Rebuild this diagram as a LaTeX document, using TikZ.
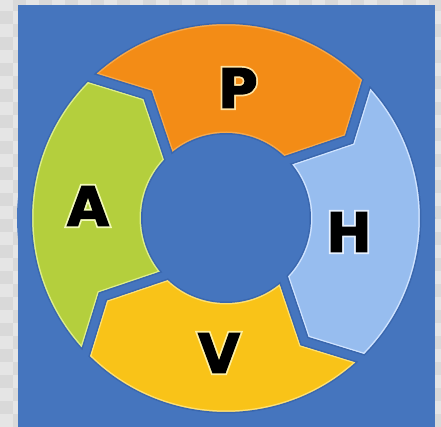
\documentclass[tikz,border=0pt]{standalone}
\usepackage{fontspec}
\newfontfamily\letterfont{DejaVu Sans Bold}[FakeBold=2.5]
\newfontfamily\glowfont{DejaVu Sans Bold}[FakeBold=9]
\definecolor{bggray}{HTML}{D9D9D9}
\definecolor{bgcheck}{HTML}{E5E5E5}
\definecolor{bgblue}{HTML}{4575BE}
\definecolor{shadowblue}{HTML}{3A67AE}
\definecolor{segP}{HTML}{F38C16}
\definecolor{segH}{HTML}{97BDEF}
\definecolor{segV}{HTML}{F9C318}
\definecolor{segA}{HTML}{B4CF3D}
\definecolor{edgeP}{HTML}{F8A848}
\definecolor{edgeH}{HTML}{CFE3FF}
\definecolor{edgeV}{HTML}{FFE070}
\definecolor{edgeA}{HTML}{DDEE88}
\definecolor{glowP}{HTML}{FFE3A0}
\definecolor{glowH}{HTML}{E8F2FF}
\definecolor{glowV}{HTML}{FFF0A0}
\definecolor{glowA}{HTML}{F2FAB8}
\newcommand\segp[2]{(#1:199) arc[start angle=#1, end angle=#2, radius=199] -- ({#2-12}:146) -- (#2:80) arc[start angle=#2, end angle=#1, radius=80] -- ({#1-12}:146) -- cycle}
\newcommand\segment[4]{%
  \fill[#3] \segp{#1}{#2};
  \begin{scope}
    \clip \segp{#1}{#2};
    \draw[#4, line width=13pt] \segp{#1}{#2};
  \end{scope}}
\tikzset{
  letter/.style={font=\letterfont\fontsize{54}{54}\selectfont, inner sep=0pt, text=black},
  letterglow/.style={font=\glowfont\fontsize{54}{54}\selectfont, inner sep=0pt},
}
\begin{document}
\begin{tikzpicture}[x=1pt,y=1pt]
\useasboundingbox (0,0) rectangle (441,427);
% transparency checker margin
\fill[bggray] (0,0) rectangle (441,427);
\foreach \i in {0,...,16}{
  \foreach \j in {0,...,16}{
    \fill[bgcheck] (\i*26,\j*26) rectangle ++(13,13);
    \fill[bgcheck] (\i*26+13,\j*26+13) rectangle ++(13,13);
  }}
% blue square
\fill[bgblue] (17.5,0) rectangle (435,421.5);
\begin{scope}[shift={(226,209)}]
  \segment{134.5}{44.5}{segP}{edgeP}
  \segment{44.5}{-45.5}{segH}{edgeH}
  \segment{-45.5}{-135.5}{segV}{edgeV}
  \segment{224.5}{134.5}{segA}{edgeA}
  \foreach \a/\b in {134.5/44.5, 44.5/-45.5, -45.5/-135.5, 224.5/134.5}
    \draw[shadowblue, line width=10pt] \segp{\a}{\b};
  \foreach \a/\b in {134.5/44.5, 44.5/-45.5, -45.5/-135.5, 224.5/134.5}
    \draw[bgblue, line width=7pt] \segp{\a}{\b};
  % remove the shadow bands that face no segment
  \draw[bgblue, line width=10pt] (0,0) circle (204);
  \fill[bgblue] (0,0) circle (80);
\end{scope}
% letters with light glow
\node[letterglow, text=glowP] (P-glow) at (238,339) {P};
\node[letterglow, text=glowH] (H-glow) at (349,195) {H};
\node[letterglow, text=glowV] (V-glow) at (219,74) {V};
\node[letterglow, text=glowA] (A-glow) at (88,221) {A};
\node[letter] (P) at (238,339) {P};
\node[letter] (H) at (349,195) {H};
\node[letter] (V) at (219,74) {V};
\node[letter] (A) at (88,221) {A};
\end{tikzpicture}
\end{document}
